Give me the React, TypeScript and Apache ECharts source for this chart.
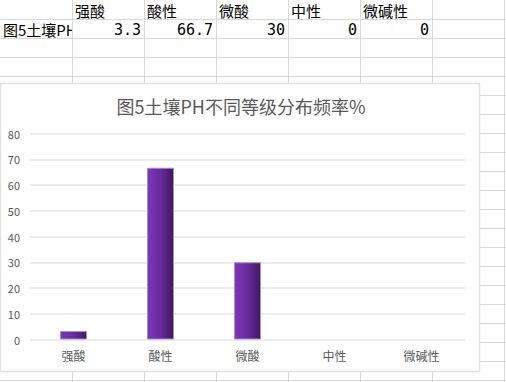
import React, { useEffect, useRef } from "react";
import * as echarts from "echarts";

const chartTitle = "图5土壤PH不同等级分布频率%";
const rowLabel = "图5土壤PH";
const categories = ["强酸", "酸性", "微酸", "中性", "微碱性"];
const values = [3.3, 66.7, 30, 0, 0];
const valueLabels = ["3.3", "66.7", "30", "0", "0"];
const yMax = 80;
const yInterval = 10;

const W = 506;
const H = 382;
const colEdges = [72, 144, 216, 288, 360, 432, 504];
const rowHeight = 19;
const rowCount = 20;
const gridColor = "#d9d9d9";
const cellFont = '"Noto Sans CJK SC", sans-serif';
const numFont = '"DejaVu Sans Mono", monospace';

function buildSheetGraphics(): any[] {
  const els: any[] = [];
  // row label (clipped by next cell)
  els.push({
    type: "text",
    x: 3,
    y: rowHeight * 1.5 + 1,
    style: {
      text: rowLabel,
      fontSize: 15,
      fontFamily: cellFont,
      fill: "#000",
      verticalAlign: "middle",
      align: "left",
    },
  });
  els.push({
    type: "rect",
    shape: { x: colEdges[0] + 0.5, y: rowHeight + 0.5, width: 12, height: rowHeight - 1 },
    style: { fill: "#fff" },
  });
  // horizontal lines
  for (let r = 1; r <= rowCount; r++) {
    const y = r * rowHeight + 0.5;
    els.push({
      type: "line",
      shape: { x1: 0, y1: y, x2: W, y2: y },
      style: { stroke: gridColor, lineWidth: 1 },
    });
  }
  // vertical lines
  colEdges.forEach((x) => {
    els.push({
      type: "line",
      shape: { x1: x + 0.5, y1: 0, x2: x + 0.5, y2: H },
      style: { stroke: gridColor, lineWidth: 1 },
    });
  });
  // header cells
  categories.forEach((c, i) => {
    els.push({
      type: "text",
      x: colEdges[i] + 3,
      y: rowHeight * 0.5 + 0.5,
      style: {
        text: c,
        fontSize: 15,
        fontFamily: cellFont,
        fill: "#000",
        verticalAlign: "middle",
        align: "left",
      },
    });
  });
  // value cells
  valueLabels.forEach((v, i) => {
    els.push({
      type: "text",
      x: colEdges[i + 1] - 3,
      y: rowHeight * 1.5 + 1,
      style: {
        text: v,
        fontSize: 15,
        fontFamily: numFont,
        fill: "#000",
        verticalAlign: "middle",
        align: "right",
      },
    });
  });
  // chart area box
  els.push({
    type: "rect",
    shape: { x: 0.5, y: 83.5, width: 479, height: 288 },
    style: { fill: "#fff", stroke: "#e2e2e2", lineWidth: 1.5 },
  });
  return els;
}

export default function App() {
  const ref = useRef<HTMLDivElement>(null);

  useEffect(() => {
    if (!ref.current) return;
    const chart = echarts.init(ref.current, undefined, { renderer: "svg" });
    chart.setOption({
      animation: false,
      backgroundColor: "#fff",
      graphic: { elements: buildSheetGraphics() },
      title: {
        text: chartTitle,
        left: 241,
        top: 97,
        padding: 0,
        textAlign: "center",
        z: 10,
        textStyle: {
          fontSize: 18,
          fontWeight: "normal",
          color: "#595959",
          fontFamily: cellFont,
        },
      },
      grid: { left: 30, right: 41, top: 133.5, bottom: 42.5, containLabel: false },
      xAxis: {
        type: "category",
        data: categories,
        z: 10,
        axisLine: { show: false },
        axisTick: { show: false },
        axisLabel: {
          margin: 10,
          fontSize: 12,
          color: "#595959",
          fontFamily: cellFont,
        },
      },
      yAxis: {
        type: "value",
        min: 0,
        max: yMax,
        interval: yInterval,
        z: 10,
        axisLine: { show: false },
        axisTick: { show: false },
        axisLabel: {
          margin: 10,
          fontSize: 11,
          color: "#595959",
          fontFamily: cellFont,
        },
        splitLine: { lineStyle: { color: "#e6e6e6", width: 1.5 } },
      },
      series: [
        {
          type: "bar",
          z: 11,
          barWidth: 27,
          data: values.map((v) => ({
            value: v,
            itemStyle: v === 0 ? { borderWidth: 0 } : {},
          })),
          itemStyle: {
            color: new echarts.graphic.LinearGradient(0, 0, 1, 0, [
              { offset: 0, color: "#7c37b7" },
              { offset: 0.5, color: "#6a2b9e" },
              { offset: 1, color: "#3f195b" },
            ]),
            borderColor: "#a98cc8",
            borderWidth: 1,
          },
        },
      ],
    });
    return () => chart.dispose();
  }, []);

  return (
    <div
      ref={ref}
      style={{ position: "fixed", left: 0, top: 0, width: W, height: H }}
    />
  );
}
